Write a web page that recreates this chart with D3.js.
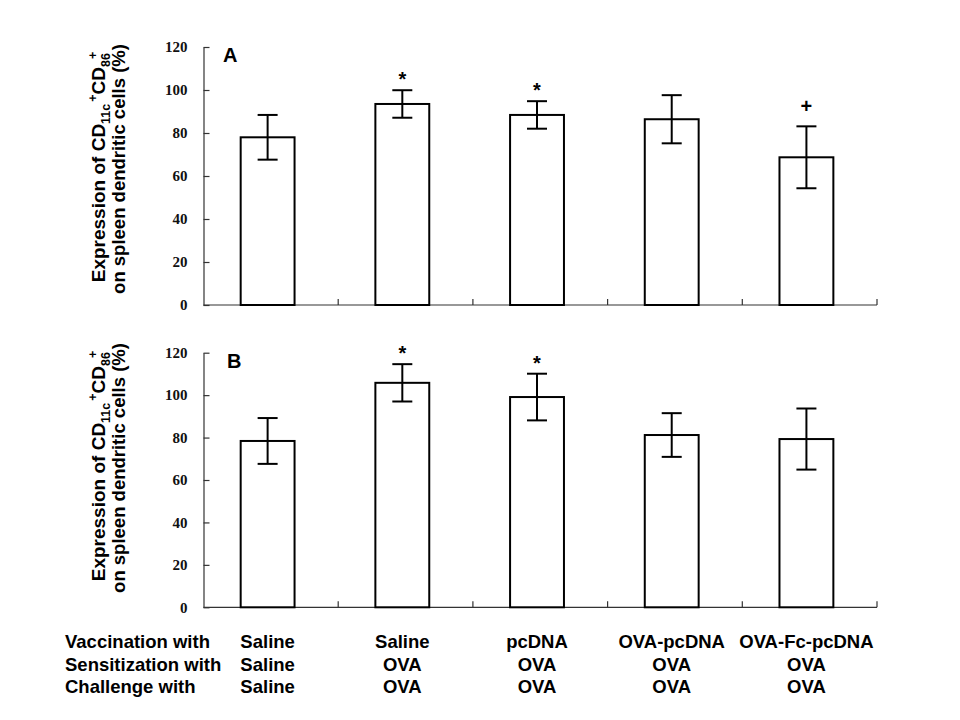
<!DOCTYPE html>
<html>
<head>
<meta charset="utf-8">
<script src="https://cdn.jsdelivr.net/npm/d3@7/dist/d3.min.js"></script>
<style>
  html, body { margin: 0; padding: 0; background: #fff; }
  svg { display: block; }
</style>
</head>
<body>
<svg id="chart" width="960" height="720"></svg>
<script>
// ---- data ----
const categories    = ["Saline", "Saline ", "pcDNA", "OVA-pcDNA", "OVA-Fc-pcDNA"];
const vaccination   = ["Saline", "Saline", "pcDNA", "OVA-pcDNA", "OVA-Fc-pcDNA"];
const sensitization = ["Saline", "OVA", "OVA", "OVA", "OVA"];
const challenge     = ["Saline", "OVA", "OVA", "OVA", "OVA"];
const rowLabels     = ["Vaccination with", "Sensitization with", "Challenge with"];

const meansA = [78.0, 93.5, 88.4, 86.4, 68.7];
const sdA    = [10.4, 6.4, 6.4, 11.2, 14.4];
const marksA = ["", "*", "*", "", "+"];

const meansB = [78.4, 105.8, 99.1, 81.2, 79.3];
const sdB    = [10.8, 8.8, 11.0, 10.3, 14.4];
const marksB = ["", "*", "*", "", ""];

const yTicks = [0, 20, 40, 60, 80, 100, 120];
const panelLabels = ["A", "B"];

// ---- drawing ----
const svg = d3.select("#chart");
svg.append("rect").attr("width", 960).attr("height", 720).attr("fill", "#fff");

const X0 = 203.5, X1 = 877;
const panels = [
  { label: panelLabels[0], means: meansA, sd: sdA, marks: marksA, top: 47, bottom: 305, lx: 223, ly: 62, ty: 167 },
  { label: panelLabels[1], means: meansB, sd: sdB, marks: marksB, top: 352.7, bottom: 607.3, lx: 227, ly: 368, ty: 466 }
];

const xBar = d3.scaleBand().domain(categories).range([X0, X1])
  .paddingInner(0.6).paddingOuter(0.3).align(0.46);
const xStep = d3.scaleBand().domain(categories).range([X0, X1]).padding(0);

const SANS = "'Liberation Sans', Arial, sans-serif";
const SERIF = "'Liberation Serif', 'Times New Roman', serif";

panels.forEach(p => {
  const y = d3.scaleLinear().domain([0, 120]).range([p.bottom, p.top]);
  const g = svg.append("g");

  // y axis
  const yAxis = d3.axisLeft(y).tickValues(yTicks).tickSizeInner(-6).tickSizeOuter(0).tickPadding(16);
  const ya = g.append("g").attr("transform", `translate(${X0},0)`).call(yAxis);
  ya.select(".domain").attr("stroke", "#333").attr("stroke-width", 1.2);
  ya.selectAll(".tick line").attr("stroke", "#333").attr("stroke-width", 1.2);
  ya.selectAll(".tick text").attr("font-family", SERIF).attr("font-size", 15)
    .attr("font-weight", "bold").attr("fill", "#111");

  // x axis line with upward ticks at band boundaries
  const xa = g.append("g").attr("transform", `translate(0,${p.bottom})`);
  xa.append("line").attr("x1", X0).attr("x2", X1).attr("y1", 0).attr("y2", 0)
    .attr("stroke", "#333").attr("stroke-width", 1.2);
  xa.selectAll("line.tk").data(categories).enter().append("line").attr("class", "tk")
    .attr("x1", d => xStep(d) + xStep.step()).attr("x2", d => xStep(d) + xStep.step())
    .attr("y1", 0).attr("y2", -6).attr("stroke", "#333").attr("stroke-width", 1.2);

  const data = categories.map((c, i) => ({ c, m: p.means[i], s: p.sd[i], mk: p.marks[i] }));

  // bars
  g.selectAll("rect.bar").data(data).enter().append("rect").attr("class", "bar")
    .attr("x", d => xBar(d.c)).attr("width", xBar.bandwidth())
    .attr("y", d => y(d.m)).attr("height", d => y(0) - y(d.m))
    .attr("fill", "#fff").attr("stroke", "#000").attr("stroke-width", 2);

  // error bars
  const cx = d => xBar(d.c) + xBar.bandwidth() / 2;
  const cap = 10;
  const eb = g.selectAll("g.eb").data(data).enter().append("g").attr("class", "eb")
    .attr("stroke", "#000").attr("stroke-width", 2);
  eb.append("line").attr("x1", cx).attr("x2", cx).attr("y1", d => y(d.m + d.s)).attr("y2", d => y(d.m - d.s));
  eb.append("line").attr("x1", d => cx(d) - cap).attr("x2", d => cx(d) + cap)
    .attr("y1", d => y(d.m + d.s)).attr("y2", d => y(d.m + d.s));
  eb.append("line").attr("x1", d => cx(d) - cap).attr("x2", d => cx(d) + cap)
    .attr("y1", d => y(d.m - d.s)).attr("y2", d => y(d.m - d.s));

  // significance marks
  g.selectAll("text.mk").data(data.filter(d => d.mk)).enter().append("text").attr("class", "mk")
    .attr("x", cx)
    .attr("y", d => d.mk === "*" ? y(d.m + d.s) - 16 + 12 : y(d.m + d.s) - 20 + 7)
    .attr("text-anchor", "middle").attr("font-family", SANS).attr("font-size", 20)
    .attr("font-weight", "bold")
    .text(d => d.mk);

  // panel label
  g.append("text").attr("x", p.lx).attr("y", p.ly).attr("font-family", SANS)
    .attr("font-size", 20).attr("font-weight", "bold").text(p.label);

  // y axis title (two lines, rotated)
  const t1 = g.append("text").attr("transform", `translate(105,${p.ty}) rotate(-90)`)
    .attr("text-anchor", "middle").attr("font-family", SANS).attr("font-size", 19)
    .attr("font-weight", "bold").attr("fill", "#000");
  t1.append("tspan").text("Expression of CD");
  t1.append("tspan").attr("font-size", 12.5).attr("dy", 5).text("11c");
  t1.append("tspan").attr("font-size", 12.5).attr("dy", -13).attr("dx", 2).text("+");
  t1.append("tspan").attr("dy", 8).text("CD");
  t1.append("tspan").attr("font-size", 12.5).attr("dy", 5).text("86");
  t1.append("tspan").attr("font-size", 12.5).attr("dy", -13).attr("dx", -6).text("+");

  g.append("text").attr("transform", `translate(125,${p.ty + 2}) rotate(-90)`)
    .attr("text-anchor", "middle").attr("font-family", SANS).attr("font-size", 18.5)
    .attr("font-weight", "bold").attr("fill", "#000").text("on spleen dendritic cells (%)");
});

// bottom treatment table
const rows = [vaccination, sensitization, challenge];
const baselines = [648, 670.5, 693];
rows.forEach((r, ri) => {
  svg.append("text").attr("x", 65).attr("y", baselines[ri]).attr("font-family", SANS)
    .attr("font-size", 18.5).attr("font-weight", "bold").text(rowLabels[ri]);
  svg.selectAll(null).data(categories).enter().append("text")
    .attr("x", d => xBar(d) + xBar.bandwidth() / 2)
    .attr("y", baselines[ri]).attr("text-anchor", "middle").attr("font-family", SANS)
    .attr("font-size", 18.5).attr("font-weight", "bold")
    .text((d, i) => r[i]);
});
</script>
</body>
</html>
